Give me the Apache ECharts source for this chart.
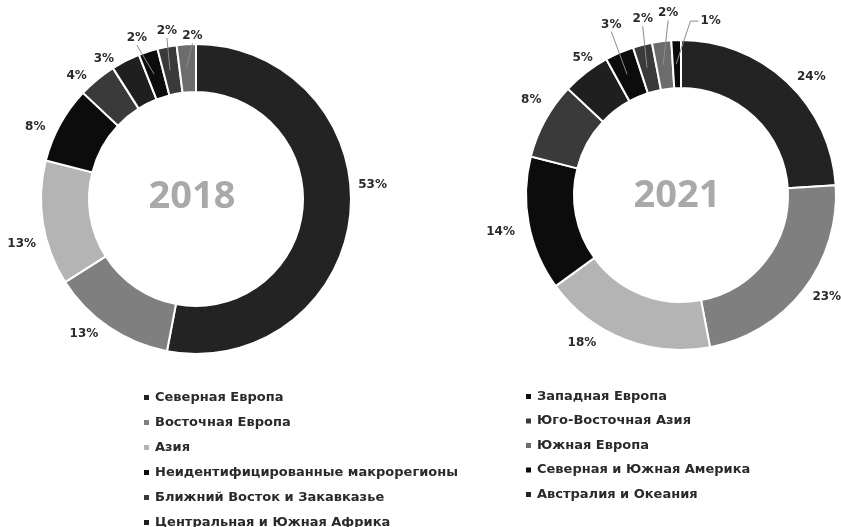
<!DOCTYPE html>
<html>
<head>
<meta charset="utf-8">
<script src="https://cdn.jsdelivr.net/npm/echarts@6/dist/echarts.min.js"></script>
<style>
  html, body { margin: 0; padding: 0; background: #fff; }
  #main { width: 841px; height: 527px; }
</style>
</head>
<body>
<div id="main"></div>
<script>
var regions = ['Северная Европа', 'Восточная Европа', 'Азия', 'Неидентифицированные макрорегионы',
  'Ближний Восток и Закавказье', 'Центральная и Южная Африка', 'Западная Европа',
  'Юго-Восточная Азия', 'Южная Европа', 'Северная и Южная Америка', 'Австралия и Океания'];
var share2018 = [53, 13, 13, 8, 4, 3, 2, 2, 2, 0, 0];
var share2021 = [24, 23, 18, 14, 8, 5, 3, 2, 2, 1, 0];
var years = ['2018', '2021'];

var region_colors = ['#232323', '#7f7f7f', '#b4b4b4', '#0c0c0c', '#3a3a3a', '#1f1f1f',
  '#0c0c0c', '#3a3a3a', '#6c6c6c', '#0a0a0a', '#222222'];

var font = 'DejaVu Sans';
var centers = [[196, 199], [681, 195]];
var year_pos = [[192, 197], [677, 196]];
var line_max = [2, 3];  // small slices get a leader line
// nudges so the labels sit where the original put them
var label_shift = [
  [[-7, -30], [0, -2], [8, 19], [-1, 7], [1, 4], [-2, 7], [7, -4], [17, -6], [22, 2]],
  [[-2, 2], [-4, 1], [-19, -6], [1, 6], [10, -16], [18, -7], [11, -19], [18, -16], [23, -18], [50, -9]]
];

function build_data(values, lineMax) {
  return values.map(function(v, i) {
    var item = { name: regions[i], value: v };
    if (v === 0) {
      item.label = { show: false };
      item.labelLine = { show: false };
    } else if (v <= lineMax) {
      item.labelLine = { show: true };
    }
    return item;
  });
}

// the rings themselves
function ring(idx, values) {
  return {
    type: 'pie',
    name: years[idx],
    center: centers[idx],
    radius: [107, 155],
    startAngle: 90,
    clockwise: true,
    z: 2,
    itemStyle: { borderColor: '#fff', borderWidth: 2 },
    label: { show: false },
    labelLine: { show: false },
    emphasis: { disabled: true },
    data: build_data(values, 0)
  };
}

// same ring, transparent, drawn on top so leader lines cross the slices
function labels(idx, values) {
  return {
    type: 'pie',
    name: years[idx] + ' labels',
    center: centers[idx],
    radius: [107, 155],
    startAngle: 90,
    clockwise: true,
    z: 5,
    silent: true,
    legendHoverLink: false,
    avoidLabelOverlap: false,
    itemStyle: { color: 'rgba(0,0,0,0)', borderWidth: 0 },
    label: {
      show: true,
      position: 'outside',
      formatter: '{c}%',
      color: '#2a2a2a',
      fontFamily: font,
      fontWeight: 'bold',
      fontSize: 12,
      letterSpacing: -0.6
    },
    labelLine: {
      show: false,
      length: 10,
      length2: 0,
      lineStyle: { color: '#8a8a8a', width: 1 }
    },
    labelLayout: function(params) {
      var s = label_shift[idx][params.dataIndex] || [0, 0];
      var out = { dx: s[0], dy: s[1] };
      if (values[params.dataIndex] <= line_max[idx]) {
        // leader line from the middle of the slice to the label
        var r = params.rect, l = params.labelRect;
        var from = [r.x + r.width / 2, r.y + r.height / 2];
        var lx = l.x + s[0], ly = l.y + s[1];
        if (lx > from[0] + 10) {
          var my = ly + l.height / 2;
          out.labelLinePoints = [from, [lx - 10, my], [lx - 2, my]];
        } else {
          var bx = lx + l.width / 2, by = ly + l.height + 1;
          out.labelLinePoints = [from, [bx, by], [bx, by]];
        }
      }
      return out;
    },
    emphasis: { disabled: true },
    data: build_data(values, line_max[idx])
  };
}

var chart = echarts.init(document.getElementById('main'), null, { renderer: 'canvas' });
var legendText = { color: '#2a2a2a', fontFamily: font, fontWeight: 'bold', fontSize: 13 };

var option = {
  animation: false,
  color: region_colors,
  legend: [
    {
      orient: 'vertical', left: 142, top: 391, height: 150, padding: 0,
      itemWidth: 7, itemHeight: 7, itemGap: 12, icon: 'rect',
      data: regions.slice(0, 6), textStyle: legendText, selectedMode: false
    },
    {
      orient: 'vertical', left: 524, top: 390, height: 150, padding: 0,
      itemWidth: 7, itemHeight: 7, itemGap: 11.5, icon: 'rect',
      data: regions.slice(6), textStyle: legendText, selectedMode: false
    }
  ],
  graphic: years.map(function(y, i) {
    return {
      type: 'text', x: year_pos[i][0], y: year_pos[i][1],
      style: {
        text: y, align: 'center', verticalAlign: 'middle',
        fill: '#a9a9a9', font: 'bold 38px "Noto Sans"'
      }
    };
  }),
  series: [ring(0, share2018), ring(1, share2021), labels(0, share2018), labels(1, share2021)]
};
chart.setOption(option);
</script>
</body>
</html>
